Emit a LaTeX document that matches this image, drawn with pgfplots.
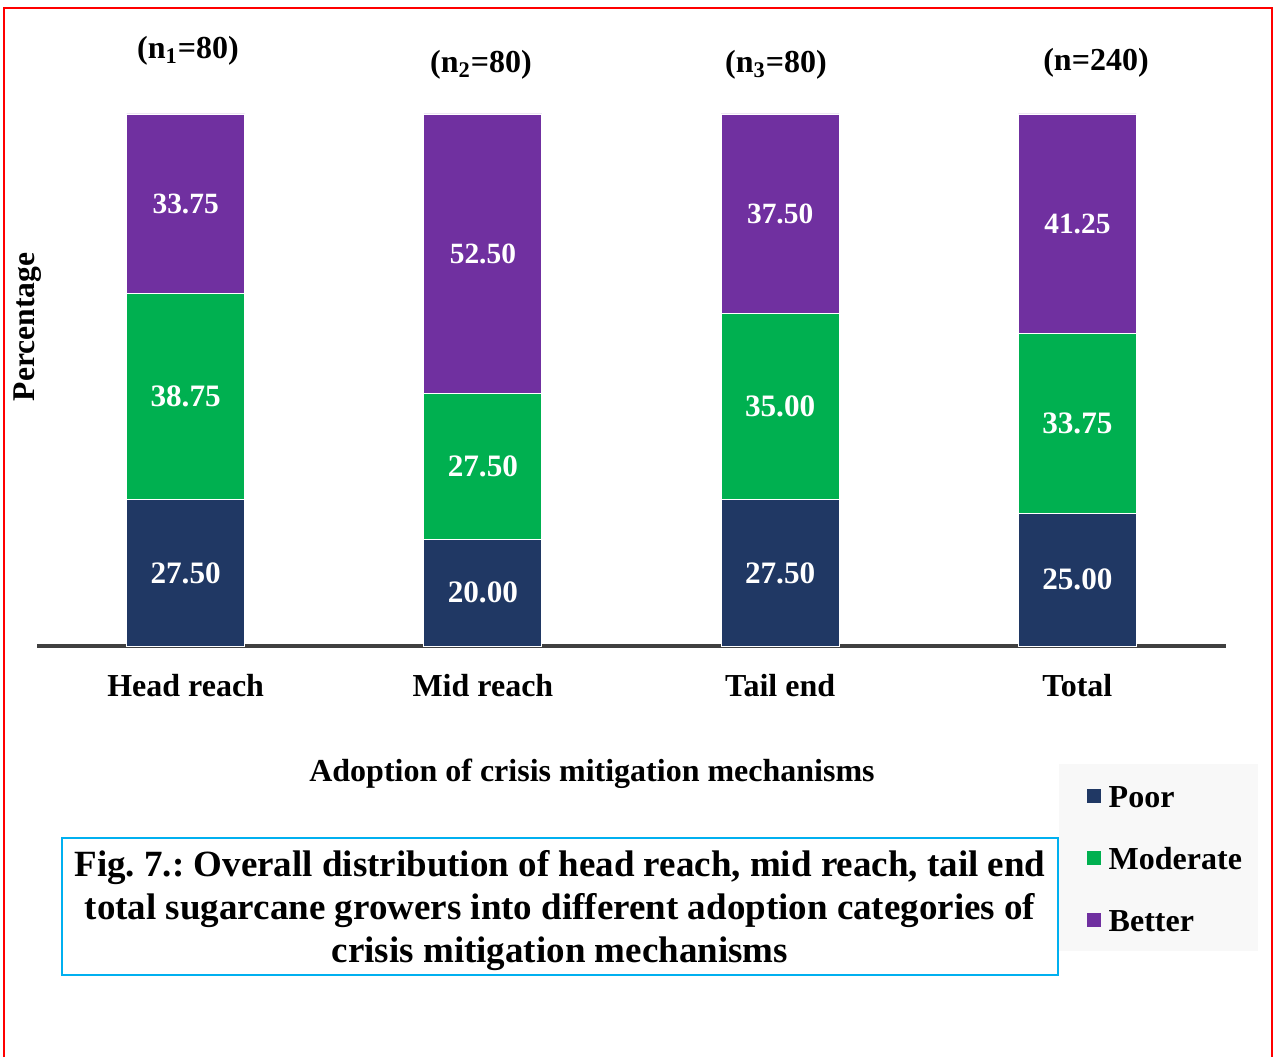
\documentclass[border=0pt]{standalone}
\usepackage{pgfplots}
\usepackage{pgfplotstable}
\pgfplotsset{compat=1.18}
\usepackage{fontspec}
\setmainfont{Liberation Serif}
\definecolor{poor}{HTML}{203864}
\definecolor{moder}{HTML}{00B050}
\definecolor{better}{HTML}{7030A0}
\definecolor{gridc}{HTML}{D9D9D9}
\definecolor{axisc}{HTML}{404040}
\definecolor{capc}{HTML}{00B0F0}
\definecolor{legbg}{HTML}{F8F8F8}

\pgfplotstableread{
x poor moderate better
0 27.50 38.75 33.75
1 20.00 27.50 52.50
2 27.50 35.00 37.50
3 25.00 33.75 41.25
}\datatable

\pgfplotstableread{
x y label
0 13.75 27.50
1 10.00 20.00
2 13.75 27.50
3 12.50 25.00
0 46.875 38.75
1 33.75 27.50
2 45.00 35.00
3 41.875 33.75
}\lablow

\pgfplotstableread{
x y label
0 83.125 33.75
1 73.75 52.50
2 81.25 37.50
3 79.375 41.25
}\labtop

\begin{document}
\frenchspacing
\begin{tikzpicture}
\begin{scope}[x=0.5pt,y=-0.5pt]
\useasboundingbox (0,0) rectangle (1280,1057);
\end{scope}
\begin{axis}[
  at={(18.5pt,-323pt)}, anchor=south west,
  scale only axis, width=594.5pt, height=266pt,
  ybar stacked, bar width=59pt,
  xmin=-0.5, xmax=3.5, ymin=0, ymax=100,
  xtick={0,1,2,3}, xticklabels={Head reach, Mid reach, Tail end, Total},
  ytick={0,20,40,60,80,100}, yticklabels={},
  major tick length=0pt,
  ymajorgrids, grid style={gridc, line width=0.6pt},
  axis x line*=bottom, axis y line=none,
  x axis line style={axisc, line width=1.6pt, -},
  xticklabel style={font=\fontsize{16}{18}\selectfont\bfseries, anchor=base, yshift=-25pt},
  legend style={at={(0.8595,-0.2218)}, anchor=north west, draw=none, fill=legbg,
    font=\fontsize{16}{18}\selectfont\bfseries, inner xsep=8pt, inner ysep=8.25pt,
    row sep=16pt, column sep=4pt,
    nodes={inner sep=0pt, text height=13.5pt, text depth=1.5pt}},
  legend cell align=left,
  /pgfplots/legend image code/.code={\path (-5.5pt,0pt); \fill[#1, draw=none] (0pt,-3.5pt) rectangle (7pt,3.5pt);},
]
\addplot[fill=poor, draw=white, line width=0.4pt] table[x=x,y=poor]{\datatable};
\addplot[fill=moder, draw=white, line width=0.4pt] table[x=x,y=moderate]{\datatable};
\addplot[fill=better, draw=white, line width=0.4pt] table[x=x,y=better]{\datatable};
\legend{Poor, Moderate, Better}
\end{axis}
\begin{axis}[
  at={(18.5pt,-323pt)}, anchor=south west,
  scale only axis, width=594.5pt, height=266pt,
  xmin=-0.5, xmax=3.5, ymin=0, ymax=100,
  hide axis, clip=false,
]
\addplot[only marks, mark=*, mark size=0pt, mark options={draw=none,fill=none},
  nodes near coords, point meta=explicit symbolic,
  nodes near coords style={anchor=center, text=white, inner sep=0pt, font=\fontsize{15.6}{18}\selectfont\bfseries}]
  table[x=x,y=y,meta=label]{\lablow};
\addplot[only marks, mark=*, mark size=0pt, mark options={draw=none,fill=none},
  nodes near coords, point meta=explicit symbolic,
  nodes near coords style={anchor=center, text=white, inner sep=0pt, font=\fontsize{14.7}{17}\selectfont\bfseries}]
  table[x=x,y=y,meta=label]{\labtop};
\end{axis}
\begin{scope}[x=0.5pt,y=-0.5pt]
\draw[red, line width=1pt] (4,1057) -- (4,8) -- (1272,8) -- (1272,1057);
\node[font=\fontsize{16}{18}\selectfont\bfseries] at (188,51) {(n\textsubscript{1}=80)};
\node[font=\fontsize{16}{18}\selectfont\bfseries] at (481,65) {(n\textsubscript{2}=80)};
\node[font=\fontsize{16}{18}\selectfont\bfseries] at (776,65) {(n\textsubscript{3}=80)};
\node[font=\fontsize{16}{18}\selectfont\bfseries] at (1096,63) {(n=240)};
\node[rotate=90, font=\fontsize{15.8}{18}\selectfont\bfseries] at (28,327) {Percentage};
\node[font=\fontsize{16}{18}\selectfont\bfseries] at (592,774) {Adoption of crisis mitigation mechanisms};
\draw[capc, line width=0.8pt] (62,838) rectangle (1058,975);
\node[align=center, inner sep=0pt, font=\fontsize{18.5}{21.5}\selectfont\bfseries] at (560,911)
  {Fig. 7.: Overall distribution of head reach, mid reach, tail end\\
   total sugarcane growers into different adoption categories of\\
   crisis mitigation mechanisms};
\end{scope}
\end{tikzpicture}
\end{document}
